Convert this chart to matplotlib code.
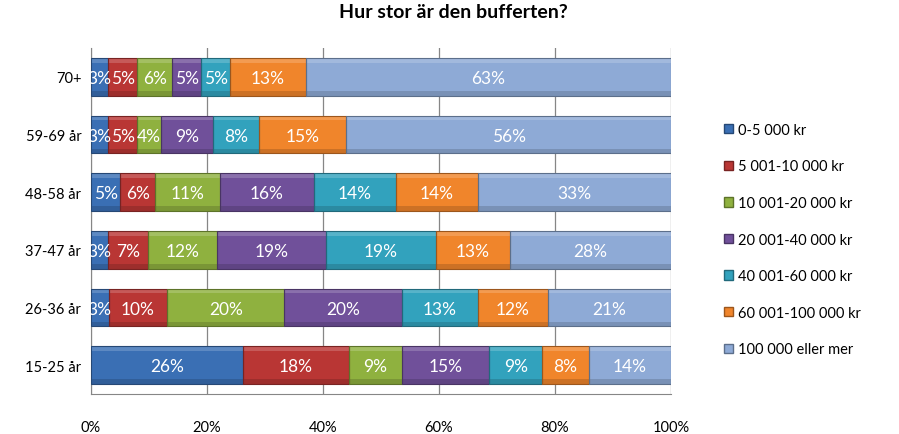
import numpy as np
import matplotlib
matplotlib.use("Agg")
import matplotlib.pyplot as plt
from matplotlib.patches import Patch
from matplotlib.colors import to_rgb

plt.rcParams['font.family'] = ['Lato', 'DejaVu Sans']

# data
groups = ['70+', '59-69 år', '48-58 år', '37-47 år', '26-36 år', '15-25 år']
series = ['0-5 000 kr', '5 001-10 000 kr', '10 001-20 000 kr', '20 001-40 000 kr',
          '40 001-60 000 kr', '60 001-100 000 kr', '100 000 eller mer']
v_0_5 = [3, 3, 5, 3, 3, 26]
v_5_10 = [5, 5, 6, 7, 10, 18]
v_10_20 = [6, 4, 11, 12, 20, 9]
v_20_40 = [5, 9, 16, 19, 20, 15]
v_40_60 = [5, 8, 14, 19, 13, 9]
v_60_100 = [13, 15, 14, 13, 12, 8]
v_100_plus = [63, 56, 33, 28, 21, 14]
values = [v_0_5, v_5_10, v_10_20, v_20_40, v_40_60, v_60_100, v_100_plus]
colors = ['#3a6fb4', '#b93634', '#8fb13f', '#70509a', '#32a2bd', '#f0852b', '#8eaad6']


def shade(c, f):
    r, g, b = to_rgb(c)
    if f > 0:
        return (r + (1 - r) * f, g + (1 - g) * f, b + (1 - b) * f)
    return (r * (1 + f), g * (1 + f), b * (1 + f))


fig = plt.figure(figsize=(8.99, 4.35), dpi=100)
ax = fig.add_axes([91 / 899, 1 - 395 / 435, 580 / 899, 346 / 435])

data = np.array(values, dtype=float)
totals = data.sum(axis=0)
pct = data / totals * 100
y = np.arange(len(groups))
h = 0.65
left = np.zeros(len(groups))
for i, name in enumerate(series):
    w = pct[i]
    c = colors[i]
    ax.barh(y, w, h, left=left, color=c, linewidth=0, zorder=3)
    # soft bevel: light top strip, dark bottom strip
    ax.barh(y - h / 2 + 0.04, w, 0.08, left=left, color=shade(c, 0.18), linewidth=0, zorder=3.5)
    ax.barh(y + h / 2 - 0.04, w, 0.08, left=left, color=shade(c, -0.15), linewidth=0, zorder=3.5)
    ax.barh(y, w, h, left=left, color='none', edgecolor=shade(c, -0.35), linewidth=0.8, zorder=4)
    for j in range(len(groups)):
        ax.text(left[j] + w[j] / 2, y[j] + 0.02, f'{int(data[i, j])}%', ha='center', va='center',
                color='white', fontsize=12.5, zorder=5)
    left += w

ax.set_xlim(0, 100)
ax.set_ylim(len(groups) - 0.5, -0.5)
ax.set_yticks(y)
ax.set_yticklabels(groups, fontsize=10.5)
ax.set_xticks([0, 20, 40, 60, 80, 100])
ax.set_xticklabels(['0%', '20%', '40%', '60%', '80%', '100%'], fontsize=10.5)
ax.tick_params(axis='x', length=0, pad=19)
ax.tick_params(axis='y', length=0, pad=7)
ax.grid(axis='x', color='#868686', linewidth=0.9, zorder=0)
for s in ['top', 'right']:
    ax.spines[s].set_visible(False)
ax.spines['left'].set_color('#868686')
ax.spines['bottom'].set_color('#868686')

handles = [Patch(facecolor=c, edgecolor=shade(c, -0.35)) for c in colors]
fig.legend(handles, series, loc='upper left', bbox_to_anchor=(718 / 899, 1 - 118 / 435),
           frameon=False, fontsize=10.5, handlelength=0.6, handleheight=0.6,
           handletextpad=0.4, labelspacing=1.55, borderaxespad=0)

fig.text(453 / 899, 1 - 13 / 435, 'Hur stor är den bufferten?', ha='center', va='center',
         fontsize=14, fontweight='bold')

fig.savefig('out.png', dpi=100)
